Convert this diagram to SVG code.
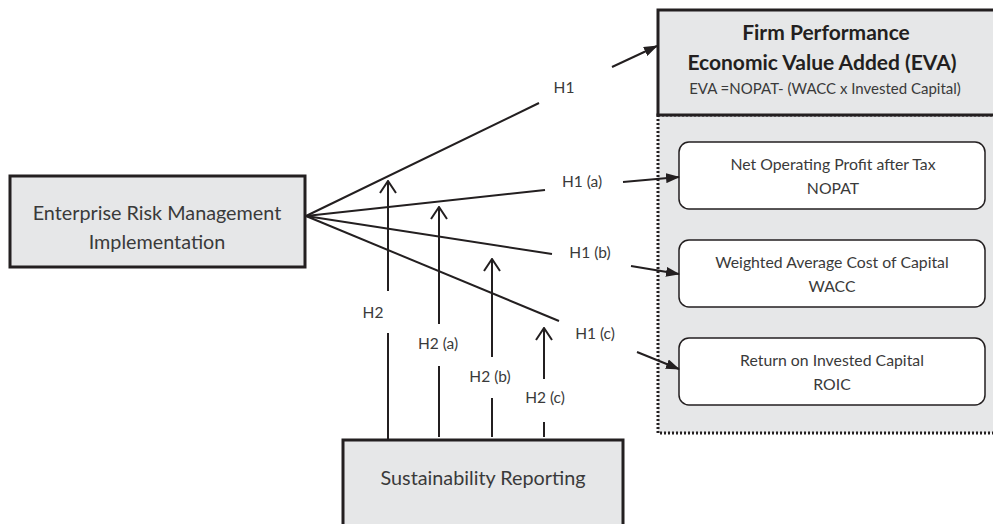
<svg xmlns="http://www.w3.org/2000/svg" width="993" height="524" viewBox="0 0 993 524">
<style>
.box{fill:#e6e7e8;stroke:#231f20;stroke-width:3}
.sub{fill:#ffffff;stroke:#231f20;stroke-width:1.5}
.dot{fill:#e6e7e8;stroke:#231f20;stroke-width:3;stroke-dasharray:2 2}
.ln{stroke:#231f20;stroke-width:2;fill:none}
text{font-family:Lato,"Liberation Sans",sans-serif;fill:#3a3a3a;text-anchor:middle}
.big{font-size:19.8px}
.bold{font-size:21px;font-weight:bold;fill:#231f20}
.mid{font-size:15px}
.sm{font-size:15.8px}
.lab{font-size:15.5px}
</style>
<defs>
<marker id="fill" markerUnits="userSpaceOnUse" viewBox="0 0 14 10" refX="13" refY="5" markerWidth="14" markerHeight="10" orient="auto">
<path d="M0,0 L14,5 L0,10 z" fill="#231f20"/>
</marker>
<marker id="open" markerUnits="userSpaceOnUse" viewBox="0 0 14 18" refX="13" refY="9" markerWidth="14" markerHeight="18" orient="auto">
<path d="M1,1 L13,9 L1,17" fill="none" stroke="#231f20" stroke-width="2"/>
</marker>
</defs>
<g id="dotted-group">
<rect class="dot" x="658" y="115" width="345" height="318"/>
</g>
<g id="firm-performance">
<rect class="box" x="658" y="10" width="345" height="105"/>
<text class="bold" x="826" y="40">Firm Performance</text>
<text class="bold" x="822" y="70">Economic Value Added (EVA)</text>
<text class="mid" x="825" y="94">EVA =NOPAT- (WACC x Invested Capital)</text>
</g>
<g id="nopat">
<rect class="sub" x="679" y="142" width="306" height="67" rx="10"/>
<text class="sm" x="833" y="170">Net Operating Profit after Tax</text>
<text class="sm" x="833" y="194">NOPAT</text>
</g>
<g id="wacc">
<rect class="sub" x="679" y="240" width="306" height="67" rx="10"/>
<text class="sm" x="832" y="268">Weighted Average Cost of Capital</text>
<text class="sm" x="832" y="292">WACC</text>
</g>
<g id="roic">
<rect class="sub" x="679" y="338" width="306" height="67" rx="10"/>
<text class="sm" x="832" y="366">Return on Invested Capital</text>
<text class="sm" x="832" y="390">ROIC</text>
</g>
<g id="erm">
<rect class="box" x="10" y="176" width="295" height="91"/>
<text class="big" x="157" y="220">Enterprise Risk Management</text>
<text class="big" x="157" y="249">Implementation</text>
</g>
<g id="sustainability-reporting">
<rect class="box" x="343" y="440" width="280" height="100"/>
<text class="big" x="483" y="485">Sustainability Reporting</text>
</g>
<g id="connectors">
<line class="ln" x1="306" y1="216" x2="539" y2="103"/>
<line class="ln" x1="612" y1="67" x2="657" y2="46" marker-end="url(#fill)"/>
<line class="ln" x1="306" y1="216" x2="545" y2="190"/>
<line class="ln" x1="623" y1="182" x2="679" y2="177" marker-end="url(#fill)"/>
<line class="ln" x1="306" y1="216" x2="552" y2="254"/>
<line class="ln" x1="631" y1="266" x2="679" y2="274" marker-end="url(#fill)"/>
<line class="ln" x1="306" y1="216" x2="559" y2="321"/>
<line class="ln" x1="637" y1="352" x2="679" y2="369" marker-end="url(#fill)"/>
<line class="ln" x1="388" y1="440" x2="388" y2="333"/>
<line class="ln" x1="388" y1="291" x2="388" y2="181" marker-end="url(#open)"/>
<line class="ln" x1="439" y1="437" x2="439" y2="366"/>
<line class="ln" x1="439" y1="324" x2="439" y2="207" marker-end="url(#open)"/>
<line class="ln" x1="492" y1="437" x2="492" y2="398"/>
<line class="ln" x1="492" y1="357" x2="492" y2="259" marker-end="url(#open)"/>
<line class="ln" x1="544" y1="437" x2="544" y2="422"/>
<line class="ln" x1="544" y1="379" x2="544" y2="328" marker-end="url(#open)"/>
<text class="lab" x="564" y="93">H1</text>
<text class="lab" x="582" y="187">H1 (a)</text>
<text class="lab" x="590" y="258">H1 (b)</text>
<text class="lab" x="595" y="339">H1 (c)</text>
<text class="lab" x="373" y="318">H2</text>
<text class="lab" x="438" y="349">H2 (a)</text>
<text class="lab" x="490" y="382">H2 (b)</text>
<text class="lab" x="545" y="403">H2 (c)</text>
</g>
</svg>
